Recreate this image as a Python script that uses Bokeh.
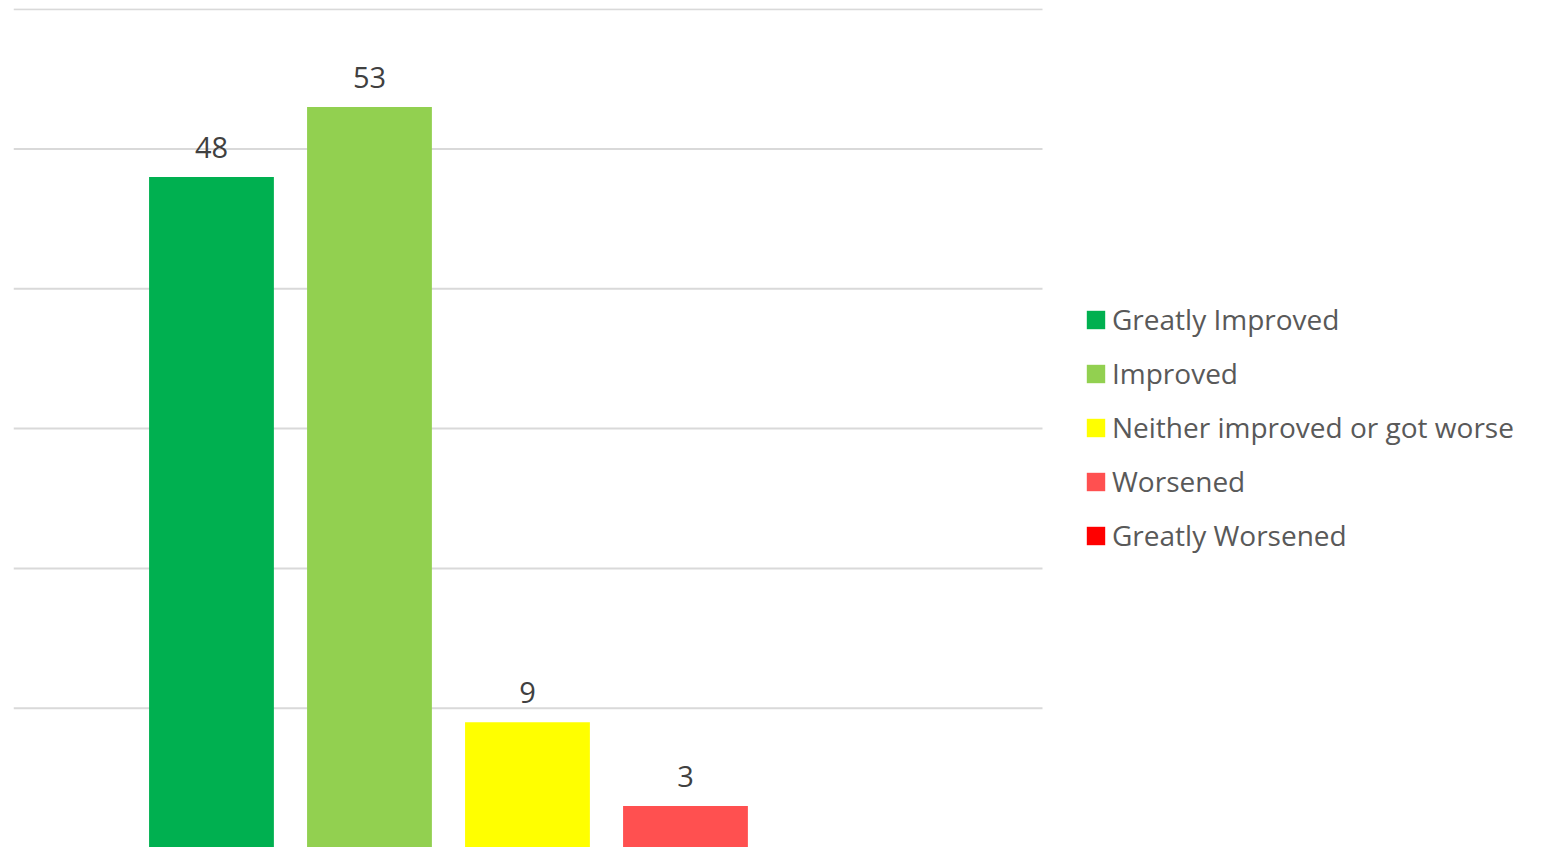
from bokeh.plotting import figure
from bokeh.models import ColumnDataSource, Range1d, Legend, LegendItem, LabelSet
from bokeh.core.properties import value
from bokeh.embed import file_html
from bokeh.resources import INLINE

categories = ["Greatly Improved", "Improved", "Neither improved or got worse",
              "Worsened", "Greatly Worsened"]
values = [48, 53, 9, 3, 0]
colors = ["#00B050", "#92D050", "#FFFF00", "#FF5050", "#FF0000"]
grid_values = [10, 20, 30, 40, 50, 60]

FONT = "Open Sans"
PX_PER_X = 158.0      # pixels per bar slot
PX_PER_Y = 13.98      # pixels per unit
FRAME_W = 1522
FRAME_H = 839

x_start = -1.253
x_end = x_start + FRAME_W / PX_PER_X
grid_x_end = x_start + 1029 / PX_PER_X
y_end = 60.05
y_start = y_end - FRAME_H / PX_PER_Y

xpos = list(range(len(categories)))

p = figure(x_range=Range1d(x_start, x_end), y_range=Range1d(y_start, y_end),
           frame_width=FRAME_W, frame_height=FRAME_H,
           output_backend="svg", toolbar_location=None,
           min_border_left=13, min_border_top=8, min_border_bottom=0, min_border_right=0)
p.outline_line_color = None
p.xaxis.visible = False
p.yaxis.visible = False
p.xgrid.grid_line_color = None
p.ygrid.grid_line_color = None

# horizontal gridlines (only across the chart area)
p.segment(x0=[x_start] * len(grid_values), x1=[grid_x_end] * len(grid_values),
          y0=grid_values, y1=grid_values, line_color="#D9D9D9", line_width=2)

renderers = []
for i, c in enumerate(categories):
    s = ColumnDataSource(dict(x=[xpos[i]], val=[values[i]]))
    r = p.vbar(x="x", top="val", width=0.79, bottom=0, source=s,
               fill_color=colors[i], line_color=None)
    renderers.append(r)

lab_src = ColumnDataSource(dict(
    x=[xpos[i] for i, v in enumerate(values) if v > 0],
    val=[v for v in values if v > 0],
    txt=[str(v) for v in values if v > 0],
))
labels = LabelSet(x="x", y="val", text="txt", source=lab_src,
                  text_align="center", text_baseline="alphabetic", y_offset=19,
                  text_font=value(FONT), text_font_size="29px", text_color="#404040")
p.add_layout(labels)

legend = Legend(items=[LegendItem(label=c, renderers=[r]) for c, r in zip(categories, renderers)],
                location=(1071, 293), border_line_color=None, background_fill_alpha=0,
                margin=0, padding=0, spacing=16, glyph_width=23, glyph_height=23,
                label_standoff=5, label_text_font=FONT, label_text_font_size="28px",
                label_text_color="#595959", label_height=18)
p.add_layout(legend)

open("out.html", "w").write(file_html(p, INLINE))
